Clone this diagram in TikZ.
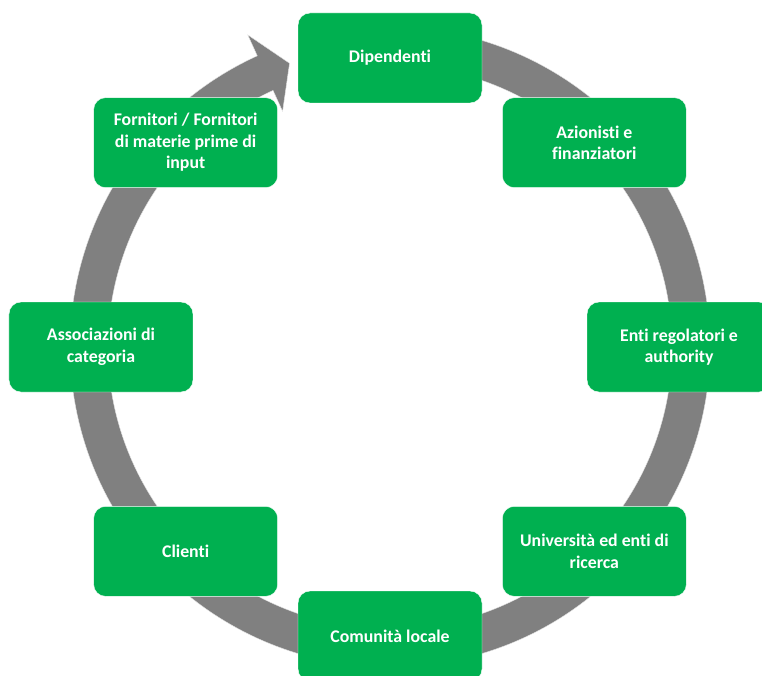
\documentclass[tikz,border=0pt]{standalone}
\usepackage{fontspec}
\setmainfont{Carlito}[Ligatures={NoCommon,NoRequired}]
\usepackage{tikz}
\definecolor{stakeholderGreen}{HTML}{00B050}
\definecolor{cycleGray}{HTML}{808080}

\begin{document}
\begin{tikzpicture}[
  x=1pt,
  y=1pt,
  every stakeholder/.style={
    rectangle,
    rounded corners=12pt,
    minimum width=184pt,
    minimum height=90pt,
    fill=stakeholderGreen,
    draw=white,
    thin,
    text=white,
    align=center,
    font=\fontsize{17.8}{21.5}\selectfont\bfseries,
  },
  stakeholder/.style={
    every stakeholder,
  },
  cycle ring/.style={
    fill=cycleGray,
    draw=white!80!cycleGray,
    thin,
  },
]
\useasboundingbox (-390,-328) rectangle (372,347);
\clip (-390,-328) rectangle (372,347);
\coordinate (centre) at (0,0);
% ring with its arrow head, closing on Dipendenti
\filldraw[cycle ring] (100:320) arc[start angle=100, end angle=-245.5, radius=320]
  -- (114.5:343) -- (109.5:301) -- (114.5:259) -- (114.5:282)
  arc[start angle=-245.5, end angle=100, radius=282] -- cycle;
\node[stakeholder] (dipendenti) at (90:289) {Dipendenti};
\node[stakeholder] (azionisti) at (45:289) {Azionisti e\\finanziatori};
\node[stakeholder] (enti) at (0:289) {Enti regolatori e\\authority};
\node[stakeholder] (universita) at (-45:289) {Università ed enti di\\ricerca};
\node[stakeholder] (comunita) at (-90:289) {Comunità locale};
\node[stakeholder] (clienti) at (-135:289) {Clienti};
\node[stakeholder] (associazioni) at (180:289) {Associazioni di\\categoria};
\node[stakeholder] (fornitori) at (135:289) {Fornitori / Fornitori\\di materie prime di\\input};
\end{tikzpicture}
\end{document}
